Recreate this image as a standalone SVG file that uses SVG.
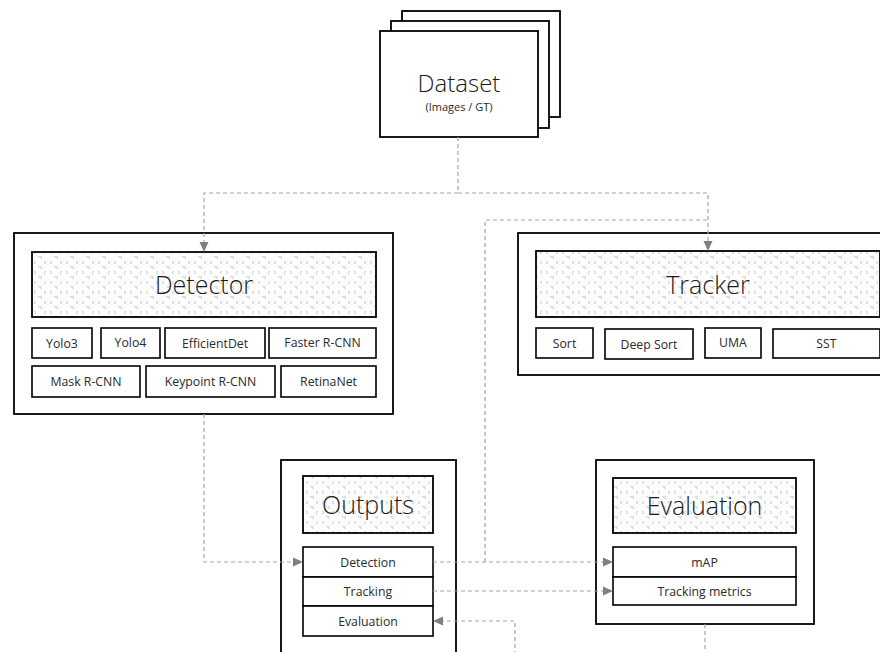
<svg xmlns="http://www.w3.org/2000/svg" width="880" height="652" viewBox="0 0 880 652">
<defs>
<pattern id="dots" x="0" y="0" width="16" height="10" patternUnits="userSpaceOnUse">
<path d="M2,1 L4,2.5 L2,4 M14,1 L12,2.5 L14,4 M10,6 L8,7.5 L10,9 M6,6 L8,7.5" fill="none" stroke="#bdbdbd" stroke-width="0.8"/>
</pattern>
</defs>
<style>
.box{fill:#fff;stroke:#000;stroke-width:1.8}
.title{fill:url(#dots);stroke:#000;stroke-width:1.8}
.item{fill:#fff;stroke:#000;stroke-width:1.6}
.tt{font-family:"Open Sans","Noto Sans",sans-serif;font-weight:300;font-size:25px;fill:#1a1a1a;text-anchor:middle}
.it{font-family:"Open Sans","Noto Sans",sans-serif;font-size:12.3px;fill:#2a2a2a;text-anchor:middle}
.con{fill:none;stroke:#a6a6a6;stroke-width:1.2;stroke-dasharray:4 3}
.ah{fill:#7f7f7f;stroke:none}
</style>
<rect width="880" height="652" fill="#fff"/>

<g id="dataset">
<rect class="box" x="402" y="11" width="158" height="106"/>
<rect class="box" x="391" y="21" width="158" height="107"/>
<rect class="box" x="380" y="31" width="158" height="106"/>
<text class="tt" x="459" y="92" style="font-size:24px">Dataset</text>
<text class="it" x="459" y="111" style="font-size:11px">(Images / GT)</text>
</g>

<g id="detector">
<rect class="box" x="14" y="233" width="379" height="181"/>
<rect class="title" x="32" y="252" width="344" height="65"/>
<text class="tt" x="204" y="294">Detector</text>
<rect class="item" x="32" y="328" width="60" height="30"/>
<text class="it" x="62" y="348">Yolo3</text>
<rect class="item" x="101" y="328" width="59" height="30"/>
<text class="it" x="130.5" y="347">Yolo4</text>
<rect class="item" x="165" y="328" width="100" height="30"/>
<text class="it" x="215" y="348">EfficientDet</text>
<rect class="item" x="269" y="328" width="107" height="30"/>
<text class="it" x="322.5" y="347">Faster R-CNN</text>
<rect class="item" x="32" y="366" width="108" height="31"/>
<text class="it" x="86" y="385.5">Mask R-CNN</text>
<rect class="item" x="146" y="366" width="129" height="31"/>
<text class="it" x="210.5" y="385.5">Keypoint R-CNN</text>
<rect class="item" x="281" y="366" width="95" height="31"/>
<text class="it" x="328.5" y="385.5">RetinaNet</text>
</g>

<g id="tracker">
<rect class="box" x="518" y="233" width="380" height="142"/>
<rect class="title" x="536" y="251" width="344" height="66"/>
<text class="tt" x="708" y="294">Tracker</text>
<rect class="item" x="536" y="328" width="57" height="30"/>
<text class="it" x="564.5" y="348">Sort</text>
<rect class="item" x="605" y="329" width="88" height="30"/>
<text class="it" x="649" y="348.5">Deep Sort</text>
<rect class="item" x="705" y="328" width="56" height="30"/>
<text class="it" x="733" y="347">UMA</text>
<rect class="item" x="773" y="329" width="107" height="29"/>
<text class="it" x="826.5" y="347.5">SST</text>
</g>

<g id="outputs">
<rect class="box" x="281" y="460" width="175" height="200"/>
<rect class="title" x="303" y="476" width="130" height="57"/>
<text class="tt" x="368" y="514">Outputs</text>
<rect class="item" x="303" y="547" width="130" height="30"/>
<text class="it" x="368" y="566.5">Detection</text>
<rect class="item" x="303" y="577" width="130" height="29"/>
<text class="it" x="368" y="596">Tracking</text>
<rect class="item" x="303" y="606" width="130" height="30"/>
<text class="it" x="368" y="625.5">Evaluation</text>
</g>

<g id="evaluation">
<rect class="box" x="596" y="460" width="218" height="164"/>
<rect class="title" x="613" y="478" width="183" height="55"/>
<text class="tt" x="704.5" y="514.5">Evaluation</text>
<rect class="item" x="613" y="547" width="183" height="30"/>
<text class="it" x="704.5" y="566.5">mAP</text>
<rect class="item" x="613" y="577" width="183" height="28"/>
<text class="it" x="704.5" y="595.5">Tracking metrics</text>
</g>

<g id="connectors">
<path class="con" d="M458,137 V193 H204 V242"/>
<path class="con" d="M458,193 H708 V241"/>
<path class="con" d="M204,414 V562 H293"/>
<path class="con" d="M433,562 H603"/>
<path class="con" d="M485,562 V220 H708"/>
<path class="con" d="M433,591 H603"/>
<path class="con" d="M705,624 V660 H515 V621 H443"/>
<polygon class="ah" points="199.5,242 208.5,242 204,252"/>
<polygon class="ah" points="703.5,241 712.5,241 708,251"/>
<polygon class="ah" points="293,557.5 293,566.5 303,562"/>
<polygon class="ah" points="603,557.5 603,566.5 613,562"/>
<polygon class="ah" points="603,586.5 603,595.5 613,591"/>
<polygon class="ah" points="443,616.5 443,625.5 433,621"/>
</g>
</svg>
